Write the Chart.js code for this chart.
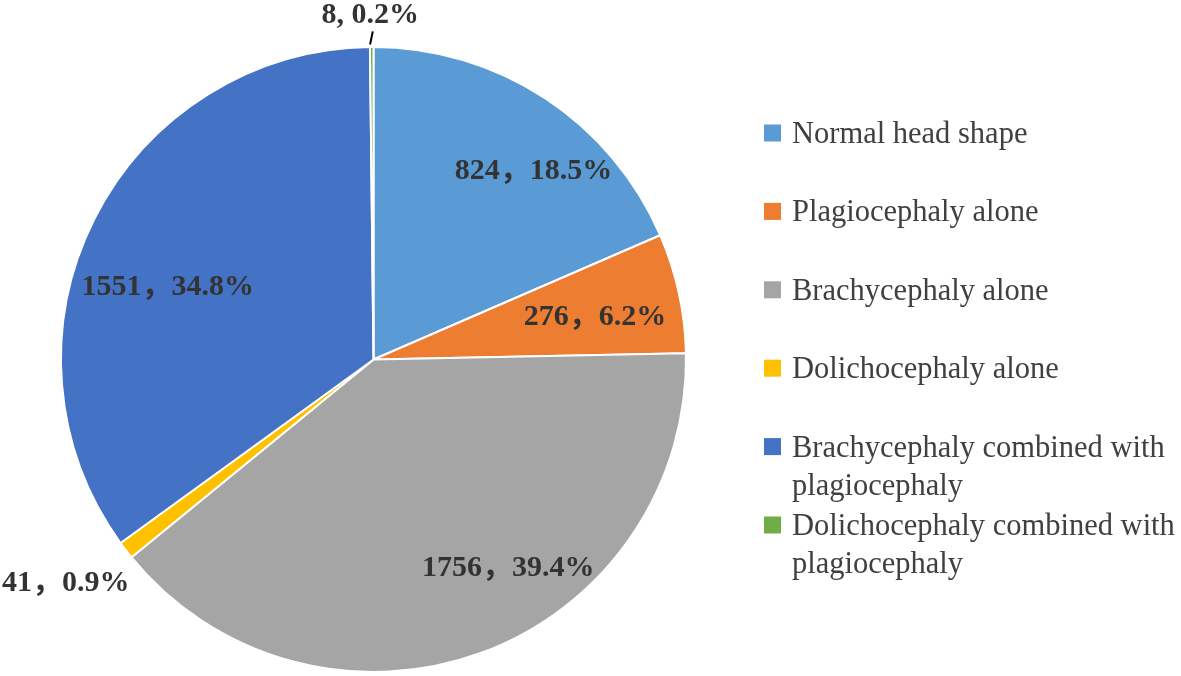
<!DOCTYPE html>
<html><head><meta charset="utf-8">
<script src="https://cdn.jsdelivr.net/npm/chart.js@4/dist/chart.umd.min.js"></script>
<style>html,body{margin:0;padding:0;background:#fff;} #wrap{width:1181px;height:676px;position:relative;}</style>
</head><body><div id="wrap"><canvas id="c" width="1181" height="676"></canvas></div>
<script>
// ---- data ----
const categories = ['Normal head shape','Plagiocephaly alone','Brachycephaly alone','Dolichocephaly alone','Brachycephaly combined with plagiocephaly','Dolichocephaly combined with plagiocephaly'];
const counts = [824, 276, 1756, 41, 1551, 8];
const separators = ['，','，','，','，','，',', '];
const colors = ['#5B9BD5','#ED7D31','#A5A5A5','#FFC000','#4472C4','#70AD47'];

// ---- label placement (style): radius factor and angular shift (deg) relative to slice middle ----
const labelPlace = [
  {f:0.795, d:6.8},
  {f:0.723, d:0.8},
  {f:0.788, d:-13},
  {f:1.213, d:1.9},
  {f:0.700, d:-6.9},
  {f:1.110, d:-0.2, leader:true}
];

const LABEL_FONT = 'bold 30px "Liberation Serif", "Noto Sans CJK SC", serif';
const LEGEND_FONT = '30.5px "Liberation Serif", "Times New Roman", serif';

const sliceLabels = {
  id:'sliceLabels',
  afterDatasetsDraw(chart){
    const ctx = chart.ctx;
    const meta = chart.getDatasetMeta(0);
    const total = counts.reduce((a,b)=>a+b,0);
    ctx.save();
    ctx.font = LABEL_FONT;
    ctx.fillStyle = '#333333';
    ctx.textAlign = 'center';
    ctx.textBaseline = 'alphabetic';
    meta.data.forEach((arc,i)=>{
      const p = arc.getProps(['x','y','startAngle','endAngle','outerRadius'], true);
      const pl = labelPlace[i];
      const midRaw = (p.startAngle+p.endAngle)/2;
      const mid = midRaw + pl.d*Math.PI/180;
      const r = p.outerRadius*pl.f;
      const x = p.x + Math.cos(mid)*r, y = p.y + Math.sin(mid)*r;
      const pct = (counts[i]/total*100).toFixed(1) + '%';
      ctx.fillText(counts[i] + separators[i] + pct, x, y + 10);
      if (pl.leader){
        const a1 = midRaw - 0.3*Math.PI/180, a2 = midRaw + 0.2*Math.PI/180;
        ctx.beginPath();
        ctx.strokeStyle = '#000';
        ctx.lineWidth = 2;
        ctx.moveTo(p.x + Math.cos(a1)*p.outerRadius*1.008, p.y + Math.sin(a1)*p.outerRadius*1.008);
        ctx.lineTo(p.x + Math.cos(a2)*p.outerRadius*1.05, p.y + Math.sin(a2)*p.outerRadius*1.05);
        ctx.stroke();
      }
    });
    ctx.restore();
  }
};

const sideLegend = {
  id:'sideLegend',
  afterDraw(chart){
    const ctx = chart.ctx;
    const area = chart.chartArea;
    const boxX = area.right + 77, textX = boxX + 28, box = 17;
    const firstY = 133, step = 78.4, lineH = 38, maxW = 392;
    ctx.save();
    ctx.font = LEGEND_FONT;
    ctx.textAlign = 'left';
    ctx.textBaseline = 'alphabetic';
    chart.data.labels.forEach((lab,i)=>{
      const cy = firstY + i*step;
      ctx.fillStyle = colors[i];
      ctx.fillRect(boxX, cy - box/2, box, box);
      const words = lab.split(' ');
      const lines = []; let cur = '';
      words.forEach(w=>{
        const t = cur ? cur + ' ' + w : w;
        if (ctx.measureText(t).width > maxW && cur){ lines.push(cur); cur = w; } else cur = t;
      });
      if (cur) lines.push(cur);
      ctx.fillStyle = '#404040';
      lines.forEach((ln,j)=> ctx.fillText(ln, textX, cy + 10 + j*lineH));
    });
    ctx.restore();
  }
};

new Chart(document.getElementById('c'), {
  type:'pie',
  data:{
    labels: categories,
    datasets:[{
      data: counts,
      backgroundColor: colors,
      borderColor:'#ffffff',
      borderWidth:2,
      hoverOffset:0
    }]
  },
  options:{
    responsive:false,
    animation:false,
    events:[],
    layout:{padding:{left:60, top:46, right:494, bottom:3}},
    plugins:{legend:{display:false}, tooltip:{enabled:false}}
  },
  plugins:[sliceLabels, sideLegend]
});
</script>
</body></html>
